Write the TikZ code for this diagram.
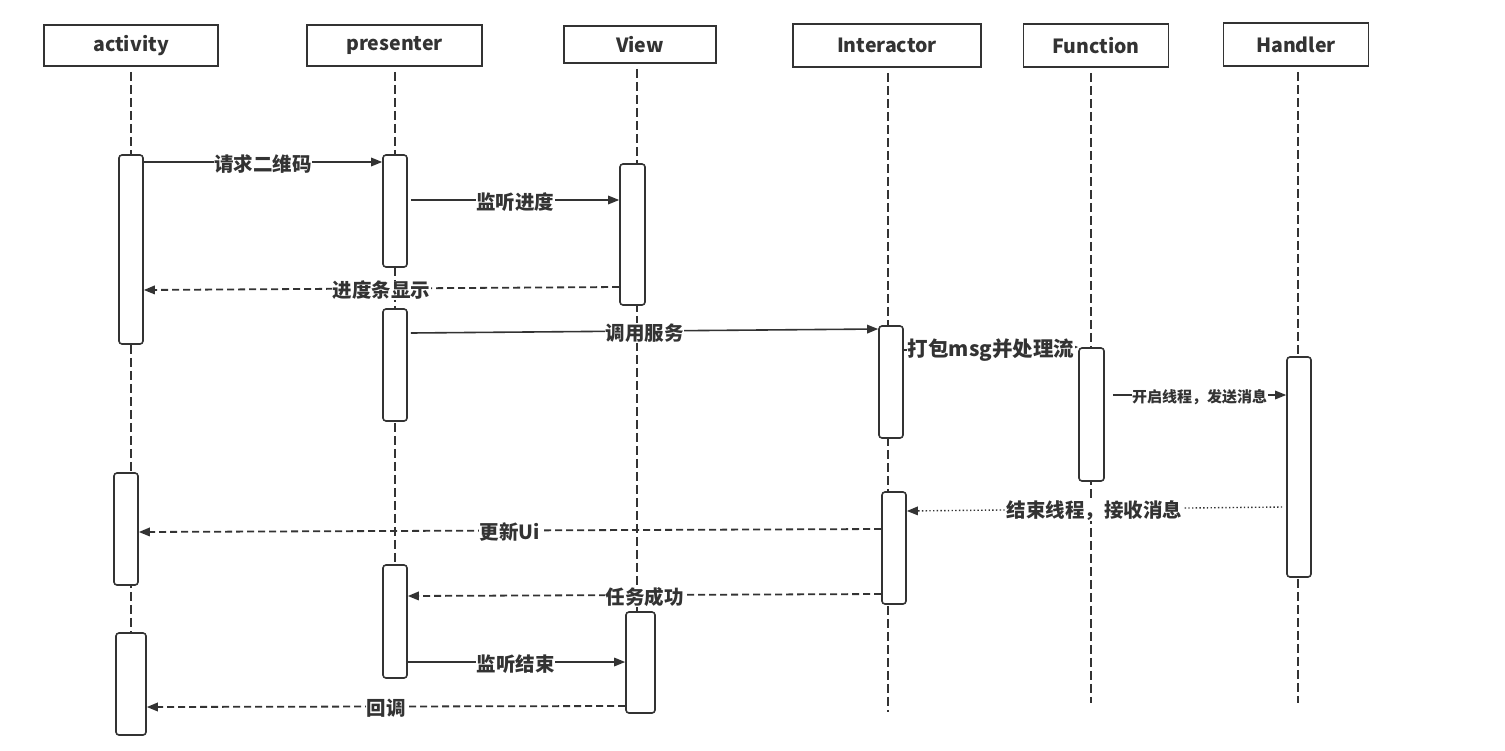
\documentclass[tikz,border=0pt]{standalone}
\usepackage{fontspec}
\setmainfont{Noto Sans CJK SC}
\usetikzlibrary{arrows.meta,calc}
\definecolor{ink}{HTML}{333333}
\begin{document}
\begin{tikzpicture}[x=1pt,y=-1pt,
  every node/.style={text=ink},
  head/.style={draw=ink, line width=1.8pt, inner sep=0pt, font=\fontsize{19.5}{22}\selectfont\bfseries},
  life/.style={draw=ink, line width=1.5pt, dash pattern=on 9pt off 4pt, shorten <=5pt},
  act/.style={draw=ink, fill=white, line width=1.6pt, rounded corners=3pt, inner sep=0pt},
  call/.style={draw=ink, line width=1.6pt, -{Triangle[length=11pt,width=8.5pt]}},
  reply/.style={call, line width=1.8pt, dash pattern=on 7pt off 4pt},
  notify/.style={call, line width=1.4pt, dash pattern=on 1.4pt off 2.3pt},
  lbl/.style={fill=white, inner sep=0.5pt, yshift=-2pt, font=\fontsize{19.5}{22}\selectfont\bfseries}
]
\useasboundingbox (0,0) rectangle (1505,750);

% participants
\node[head, minimum width=174, minimum height=41] (hA) at (131,45.5) {activity};
\node[head, minimum width=175, minimum height=41] (hP) at (394.5,45.5) {presenter};
\node[head, minimum width=152, minimum height=37] (hV) at (640,44.5) {View};
\node[head, minimum width=188, minimum height=43] (hI) at (887,45.5) {Interactor};
\node[head, minimum width=145, minimum height=43] (hF) at (1096,45.5) {Function};
\node[head, minimum width=145, minimum height=43] (hH) at (1296,44.5) {Handler};

% lifeline ends
\coordinate (eA) at (131,735);
\coordinate (eP) at (395,678);
\coordinate (eV) at (637,713);
\coordinate (eI) at (888,712);
\coordinate (eF) at (1091,703);
\coordinate (eH) at (1298,703);

\draw[life] (hA.south -| eA) -- (eA);
\draw[life] (hP.south -| eP) -- (eP);
\draw[life] (hV.south -| eV) -- (eV);
\draw[life] (hI.south -| eI) -- (eI);
\draw[life] (hF.south -| eF) -- (eF);
\draw[life] (hH.south -| eH) -- (eH);

% activation bars
\node[act, minimum width=24, minimum height=189] (A1) at (131,249.5) {};
\node[act, minimum width=24, minimum height=112] (A2) at (126,529) {};
\node[act, minimum width=30, minimum height=102] (A3) at (131,684) {};
\node[act, minimum width=24, minimum height=112] (P1) at (395,211) {};
\node[act, minimum width=24, minimum height=112] (P2) at (395,365) {};
\node[act, minimum width=24, minimum height=113] (P3) at (395,621.5) {};
\node[act, minimum width=25, minimum height=141] (V1) at (632.5,234.5) {};
\node[act, minimum width=29, minimum height=101] (V2) at (640.5,662.5) {};
\node[act, minimum width=24, minimum height=112] (I1) at (891,382) {};
\node[act, minimum width=24, minimum height=112] (I2) at (894,548) {};
\node[act, minimum width=25, minimum height=133] (F1) at (1091.5,414.5) {};
\node[act, minimum width=24, minimum height=220] (H1) at (1299,467) {};

% messages
\draw[call] (A1.east |- 0,162) -- (P1.west |- 0,162) node[lbl, midway] {请求二维码};
\draw[call] ($(P1.east |- 0,200)+(3,0)$) -- (V1.west |- 0,200) node[lbl, midway] {监听进度};
\draw[reply] (V1.west |- 0,287) -- (A1.east |- 0,290) node[lbl, midway] {进度条显示};
\draw[call] ($(P2.east |- 0,333)+(3,0)$) -- (I1.west |- 0,329) node[lbl, midway] {调用服务};
\draw[call] (I1.east |- 0,350) -- (F1.west |- 0,347) node[lbl, midway, font=\fontsize{20.5}{23}\selectfont\bfseries] {打包msg并处理流};
\draw[call] ($(F1.east |- 0,395)+(8,0)$) -- (H1.west |- 0,395) node[lbl, midway, font=\fontsize{15}{18}\selectfont\bfseries] {开启线程，发送消息};
\draw[notify] ($(H1.west |- 0,507)+(-4,0)$) -- (I2.east |- 0,511) node[lbl, midway] {结束线程，接收消息};
\draw[reply] (I2.west |- 0,529) -- (A2.east |- 0,532) node[lbl, midway] {更新Ui};
\draw[reply] (I2.west |- 0,594) -- (P3.east |- 0,596) node[lbl, midway] {任务成功};
\draw[call] ($(P3.east |- 0,662)+(-2,0)$) -- (V2.west |- 0,662) node[lbl, midway] {监听结束};
\draw[reply] (V2.west |- 0,706) -- (A3.east |- 0,707) node[lbl, midway] {回调};
\end{tikzpicture}
\end{document}
